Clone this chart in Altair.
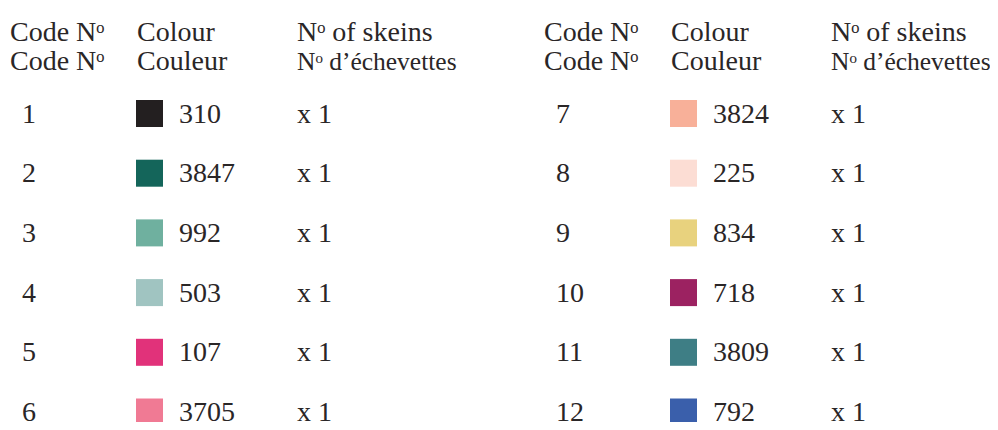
import altair as alt
import pandas as pd

# ---- data ----
code_numbers = [1, 2, 3, 4, 5, 6, 7, 8, 9, 10, 11, 12]
dmc_codes = ["310", "3847", "992", "503", "107", "3705",
             "3824", "225", "834", "718", "3809", "792"]
swatch_colours = ["#231f20", "#14655a", "#6fb09f", "#a0c4c1", "#e1327a", "#f07a94",
                  "#f8b099", "#fcddd4", "#e8d27e", "#9c2261", "#3e7e85", "#3a5fab"]
skeins = ["x 1"] * 12

header_line1 = ["Code N\u1d52", "Colour", "N\u1d52 of skeins"]
header_line2 = ["Code N\u1d52", "Couleur", "N\u1d52 d\u2019échevettes"]

rows_per_table = 6

df = pd.DataFrame({
    "code": [str(c) for c in code_numbers],
    "dmc": dmc_codes,
    "hex": swatch_colours,
    "skeins": skeins,
})
df["group"] = [i // rows_per_table for i in range(len(df))]
df["row"] = [i % rows_per_table + 1 for i in range(len(df))]

hdr = []
for g in (0, 1):
    for line, texts in ((1, header_line1), (2, header_line2)):
        for col, t in enumerate(texts):
            hdr.append({"group": g, "line": line, "col": col, "text": t})
hdf = pd.DataFrame(hdr)

FONT = "Liberation Serif"
FS = 28
INK = "#2a2627"

x_enc = alt.X("group:Q", scale=alt.Scale(domain=[0, 1], range=[0, 534]), axis=None)
y_enc = alt.Y("row:Q", scale=alt.Scale(domain=[1, 6], range=[105.5, 404]), axis=None)

base = alt.Chart(df).encode(x=x_enc, y=y_enc)

code_txt = base.mark_text(font=FONT, fontSize=FS, color=INK, align="left",
                          baseline="alphabetic", dx=14, dy=9).encode(text="code:N")
swatch = base.mark_square(size=729, opacity=1, strokeWidth=0, xOffset=141.5).encode(
    color=alt.Color("hex:N", scale=None))
dmc_txt = base.mark_text(font=FONT, fontSize=FS, color=INK, align="left",
                         baseline="alphabetic", dx=171, dy=9).encode(text="dmc:N")
sk_txt = base.mark_text(font=FONT, fontSize=FS, color=INK, align="left",
                        baseline="alphabetic", dx=289, dy=9).encode(text="skeins:N")

hbase = alt.Chart(hdf).encode(
    x=x_enc,
    y=alt.Y("line:Q", scale=alt.Scale(domain=[1, 2], range=[33, 62]), axis=None),
    text="text:N",
)
hdr_layers = []
for col, off in enumerate([2, 129, 289]):
    if col < 2:
        hdr_layers.append(hbase.transform_filter(alt.datum.col == col).mark_text(
            font=FONT, fontSize=FS, color=INK, align="left", baseline="alphabetic", dx=off))
    else:
        hdr_layers.append(hbase.transform_filter(
            (alt.datum.col == col) & (alt.datum.line == 1)).mark_text(
            font=FONT, fontSize=FS, color=INK, align="left", baseline="alphabetic", dx=off))
        hdr_layers.append(hbase.transform_filter(
            (alt.datum.col == col) & (alt.datum.line == 2)).mark_text(
            font=FONT, fontSize=25.5, color=INK, align="left", baseline="alphabetic", dx=off))

header = alt.layer(*hdr_layers)
body = alt.layer(swatch, code_txt, dmc_txt, sk_txt)

chart = alt.layer(header, body).resolve_scale(y="independent").properties(
    width=982, height=414, padding=0, autosize=alt.AutoSizeParams(type="none")
).configure_view(stroke=None)

chart.save("out.html", embed_options={"renderer": "svg", "actions": False})
